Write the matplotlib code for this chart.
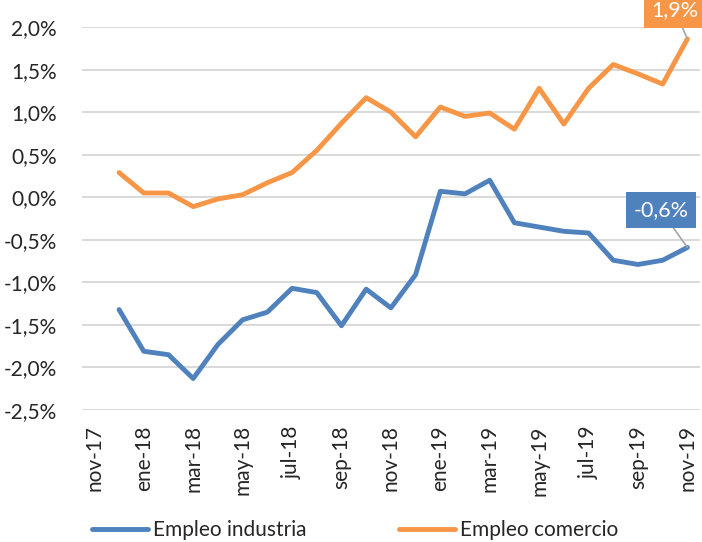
import numpy as np
import matplotlib
matplotlib.use("Agg")
import matplotlib.pyplot as plt

plt.rcParams['font.family'] = ['Lato', 'DejaVu Sans']

# monthly categories, nov-17 .. nov-19 (nov-17 has no data)
meses = ['nov-17', 'dic-17', 'ene-18', 'feb-18', 'mar-18', 'abr-18', 'may-18',
         'jun-18', 'jul-18', 'ago-18', 'sep-18', 'oct-18', 'nov-18', 'dic-18',
         'ene-19', 'feb-19', 'mar-19', 'abr-19', 'may-19', 'jun-19', 'jul-19',
         'ago-19', 'sep-19', 'oct-19', 'nov-19']

empleo_industria = [np.nan, -1.32, -1.81, -1.85, -2.13, -1.73, -1.44, -1.35,
                    -1.07, -1.12, -1.51, -1.08, -1.30, -0.91, 0.07, 0.04,
                    0.20, -0.30, -0.35, -0.40, -0.42, -0.74, -0.79, -0.74, -0.59]

empleo_comercio = [np.nan, 0.29, 0.05, 0.05, -0.11, -0.02, 0.03, 0.17,
                   0.29, 0.55, 0.87, 1.17, 1.00, 0.71, 1.06, 0.95,
                   0.99, 0.80, 1.28, 0.86, 1.28, 1.56, 1.45, 1.33, 1.86]

azul = '#4f81bd'
naranja = '#f79646'
gris_txt = '#262626'

fig = plt.figure(figsize=(7.02, 5.42), dpi=100)
ax = fig.add_axes([0.1168, 0.2435, 0.880, 0.7066])

x = np.arange(len(meses))
ax.plot(x, empleo_industria, color=azul, lw=3.5, solid_joinstyle='round',
        solid_capstyle='round', label='Empleo industria', zorder=3)
ax.plot(x, empleo_comercio, color=naranja, lw=3.5, solid_joinstyle='round',
        solid_capstyle='round', label='Empleo comercio', zorder=3)

ax.set_xlim(-0.5, len(meses) - 0.5)
ax.set_ylim(-2.5, 2.0)
yt = np.arange(-2.5, 2.01, 0.5)
ax.set_yticks(yt)
ax.set_yticklabels([('%.1f%%' % v).replace('.', ',') for v in yt], fontsize=15, color=gris_txt)
ax.set_xticks(x[::2])
ax.set_xticklabels(meses[::2], rotation=90, fontsize=15, color=gris_txt)
ax.tick_params(axis='y', length=0, pad=18)
ax.tick_params(axis='x', length=0, pad=11)
ax.grid(axis='y', color='#d9d9d9', lw=1.4)
ax.set_axisbelow(True)
for s in ax.spines.values():
    s.set_visible(False)

# last value labels
ax.annotate('1,9%', xy=(x[-1], empleo_comercio[-1]), xytext=(23.49, 2.2),
            ha='center', va='center', fontsize=15.5, color='white',
            bbox=dict(boxstyle='square,pad=0.35', fc=naranja, ec='none'),
            arrowprops=dict(arrowstyle='-', color='#a6a6a6', lw=1.2, shrinkA=0, shrinkB=0),
            annotation_clip=False, zorder=5)
ax.annotate('-0,6%', xy=(x[-1], empleo_industria[-1]), xytext=(22.92, -0.15),
            ha='center', va='center', fontsize=15.5, color='white',
            bbox=dict(boxstyle='square,pad=0.35', fc=azul, ec='none'),
            arrowprops=dict(arrowstyle='-', color='#a6a6a6', lw=1.2, shrinkA=0, shrinkB=0),
            annotation_clip=False, zorder=5)

# title, almost entirely above the saved area
fig.text(0.546, 1 + 3.5 / 542, '(variación anual)', ha='center', va='baseline',
         fontsize=17, fontweight='bold', color='#595959')

fig.legend(loc='lower left', bbox_to_anchor=(92 / 702, 0.003), ncol=2, frameon=False,
           fontsize=15, handlelength=2.7, handletextpad=0.25, columnspacing=4.4,
           borderpad=0, borderaxespad=0)
for t in fig.legends[0].get_texts():
    t.set_color(gris_txt)

fig.savefig('out.png', dpi=100)
